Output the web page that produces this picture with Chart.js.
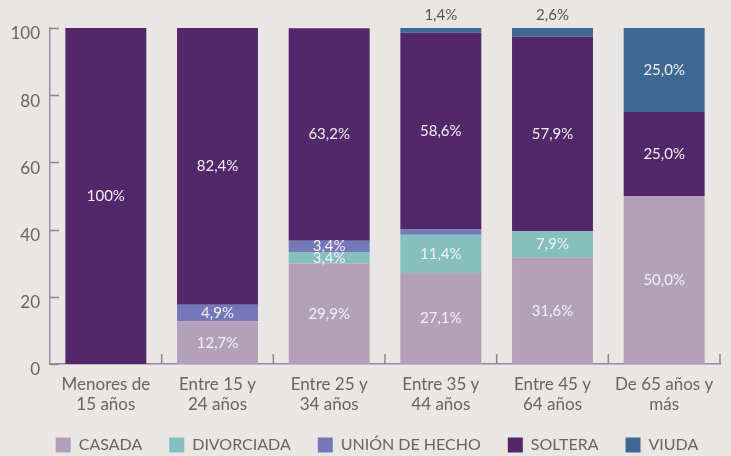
<!DOCTYPE html>
<html>
<head>
<meta charset="utf-8">
<script src="https://cdn.jsdelivr.net/npm/chart.js@4"></script>
<style>
  html, body { margin: 0; padding: 0; background: #e9e6e3; overflow: hidden; }
  #wrap { width: 731px; height: 456px; position: relative; }
</style>
</head>
<body>
<div id="wrap"><canvas id="chart" width="731" height="456"></canvas></div>
<script>
// ---- data ----
const categories = [
  ['Menores de', '15 años'],
  ['Entre 15 y', '24 años'],
  ['Entre 25 y', '34 años'],
  ['Entre 35 y', '44 años'],
  ['Entre 45 y', '64 años'],
  ['De 65 años y', 'más']
];
const seriesNames = ['CASADA', 'DIVORCIADA', 'UNIÓN DE HECHO', 'SOLTERA', 'VIUDA'];
const casada     = [0, 12.7, 29.9, 27.1, 31.6, 50.0];
const divorciada = [0, 0, 3.4, 11.4, 7.9, 0];
const unionHecho = [0, 4.9, 3.4, 1.5, 0, 0];
const soltera    = [100, 82.4, 63.2, 58.6, 57.9, 25.0];
const viuda      = [0, 0, 0, 1.4, 2.6, 25.0];
const yTicks     = [0, 20, 40, 60, 80, 100];

const colors = ['#b3a1ba', '#85bfc0', '#7679b9', '#52286b', '#3c6892'];
const FONT = "Lato, 'Open Sans', sans-serif";

function fmt(v) {
  if (v === 100) return '100%';
  return v.toFixed(1).replace('.', ',') + '%';
}

// labels inside segments (small viuda values go above the bar)
const segmentLabels = {
  id: 'segmentLabels',
  afterDatasetsDraw(chart) {
    const ctx = chart.ctx;
    ctx.save();
    ctx.font = '15px ' + FONT;
    ctx.textAlign = 'center';
    ctx.textBaseline = 'middle';
    chart.data.datasets.forEach((ds, di) => {
      const meta = chart.getDatasetMeta(di);
      meta.data.forEach((bar, i) => {
        const v = ds.data[i];
        if (!v) return;
        if (v < 3) {
          if (di !== 4) return;
          ctx.fillStyle = '#555';
          ctx.fillText(fmt(v), bar.x, bar.y - 13);
          return;
        }
        ctx.fillStyle = '#f3eef5';
        ctx.fillText(fmt(v), bar.x, (bar.y + bar.base) / 2);
      });
    });
    ctx.restore();
  }
};

// short tick marks pointing into the plot area
const innerTicks = {
  id: 'innerTicks',
  afterDraw(chart) {
    const ctx = chart.ctx;
    const x = chart.scales.x, y = chart.scales.y;
    ctx.save();
    ctx.strokeStyle = '#8a8a8a';
    ctx.lineWidth = 1.5;
    ctx.beginPath();
    yTicks.forEach(t => {
      const py = Math.round(y.getPixelForValue(t)) + 0.5;
      ctx.moveTo(x.left, py);
      ctx.lineTo(x.left + 9, py);
    });
    const half = (x.getPixelForValue(1) - x.getPixelForValue(0)) / 2;
    for (let i = 1; i <= categories.length; i++) {
      const px = x.getPixelForValue(i - 1) + half;
      ctx.moveTo(px, y.bottom);
      ctx.lineTo(px, y.bottom - 10);
    }
    ctx.stroke();
    ctx.restore();
  }
};

// legend sits a little right of centre in the original
const legendShift = {
  id: 'legendShift',
  afterLayout(chart) {
    if (!chart.legend) return;
    chart.legend.left += 17;
    chart.legend.right += 17;
  }
};

new Chart(document.getElementById('chart'), {
  type: 'bar',
  data: {
    labels: categories,
    datasets: [casada, divorciada, unionHecho, soltera, viuda].map((d, i) => ({
      label: seriesNames[i],
      data: d,
      backgroundColor: colors[i],
      borderWidth: 0,
      barPercentage: 0.725,
      categoryPercentage: 1
    }))
  },
  options: {
    responsive: false,
    animation: false,
    layout: { padding: { top: 28, right: 11, left: 0, bottom: -7 } },
    plugins: {
      tooltip: { enabled: false },
      legend: {
        position: 'bottom',
        align: 'center',
        labels: {
          boxWidth: 15,
          boxHeight: 15,
          padding: 27,
          color: '#666',
          font: { family: FONT, size: 16 }
        }
      }
    },
    scales: {
      x: {
        stacked: true,
        grid: { display: false, drawTicks: false },
        border: { color: '#a57fb3', width: 1.5 },
        ticks: {
          color: '#666',
          padding: 10,
          maxRotation: 0,
          font: { family: FONT, size: 17, lineHeight: 1.2 }
        },
        afterFit(scale) { scale.height = 46; }
      },
      y: {
        stacked: true,
        min: 0,
        max: 100,
        grid: { display: false, drawTicks: false },
        border: { color: '#a088ad', width: 1.5 },
        afterBuildTicks(scale) { scale.ticks = yTicks.map(v => ({ value: v })); },
        ticks: {
          color: '#666',
          padding: 10,
          labelOffset: 6,
          font: { family: FONT, size: 17 }
        },
        afterFit(scale) { scale.width = 50; }
      }
    }
  },
  plugins: [segmentLabels, innerTicks, legendShift]
});
</script>
</body>
</html>
